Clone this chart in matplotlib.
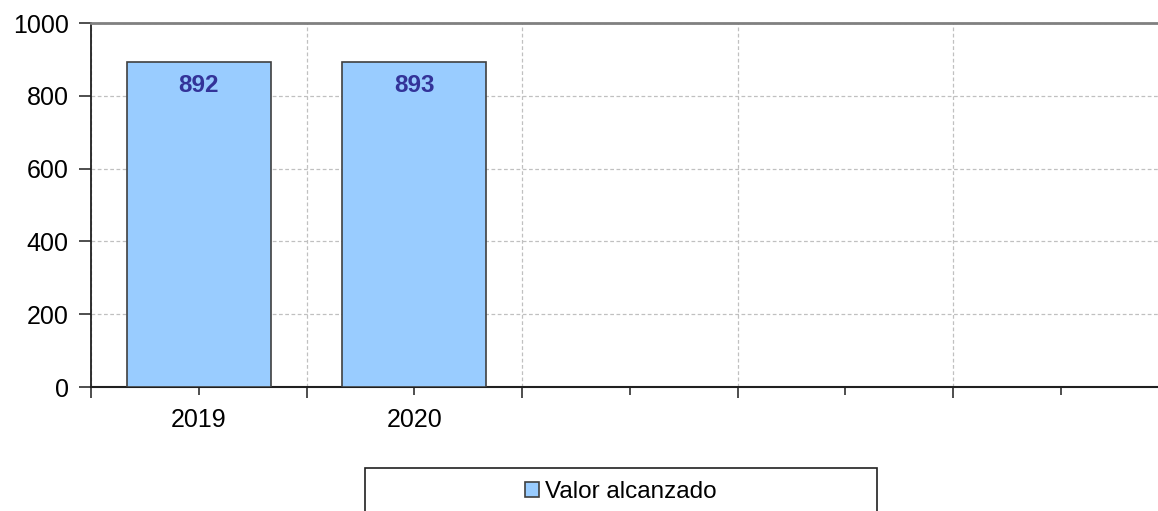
import matplotlib
matplotlib.use("Agg")
import matplotlib.pyplot as plt
from matplotlib.patches import Rectangle
import numpy as np

categories = ["2019", "2020", "", "", ""]
values = [892, 893, np.nan, np.nan, np.nan]
series_name = "Valor alcanzado"
yticks = [0, 200, 400, 600, 800, 1000]

plt.rcParams['font.family'] = ['Liberation Sans', 'DejaVu Sans']

W, H = 1158, 511
fig = plt.figure(figsize=(W / 100, H / 100), dpi=100)
ax = fig.add_axes([91 / W, (H - 387) / H, 1077.5 / W, 364 / H])

x = np.arange(len(categories))
bars = ax.bar(x, values, width=0.67, color="#99CCFF", edgecolor="#404040",
              linewidth=1.2, zorder=3, label=series_name)

for xi, v in zip(x, values):
    if not np.isnan(v):
        ax.annotate(f"{v:.0f}", (xi, v), xytext=(0, -17), textcoords="offset points",
                    ha="center", va="center", fontsize=17.5, fontweight="bold",
                    color="#333399", zorder=4)

ax.set_xlim(-0.5, len(categories) - 0.5)
ax.set_ylim(0, 1000)
ax.set_yticks(yticks)
ax.set_yticklabels([str(t) for t in yticks], fontsize=18)

# boundaries as major ticks (no labels), centers as minor ticks with labels
ax.set_xticks(np.arange(len(categories) + 1) - 0.5)
ax.set_xticklabels([])
ax.set_xticks(x, minor=True)
ax.set_xticklabels(categories, minor=True, fontsize=18)
ax.tick_params(axis="x", which="major", length=8, width=1.2, color="#303030")
ax.tick_params(axis="x", which="minor", length=6, width=1.2, color="#303030", pad=9)
ax.tick_params(axis="y", which="major", length=9, width=1.2, color="#303030", pad=7)

ax.grid(True, which="major", axis="both", color="#c0c0c0", linestyle=(0, (3, 2)),
        linewidth=0.9, zorder=0)

ax.spines["left"].set_color("#202020")
ax.spines["left"].set_linewidth(1.3)
ax.spines["bottom"].set_color("#202020")
ax.spines["bottom"].set_linewidth(1.5)
ax.spines["top"].set_color("#808080")
ax.spines["top"].set_linewidth(2)
ax.spines["right"].set_visible(False)

# legend box
fig.patches.append(Rectangle((365 / W, -0.05), 512 / W, (H - 468) / H + 0.05,
                             transform=fig.transFigure, facecolor="white",
                             edgecolor="#202020", linewidth=1.2))
fig.legend(handles=[bars], labels=[series_name], loc="center",
           bbox_to_anchor=(621 / W, 1 - 492 / H), frameon=False, fontsize=17.5,
           handlelength=0.55, handleheight=0.55, handletextpad=0.25)

fig.savefig("out.png", dpi=100)
